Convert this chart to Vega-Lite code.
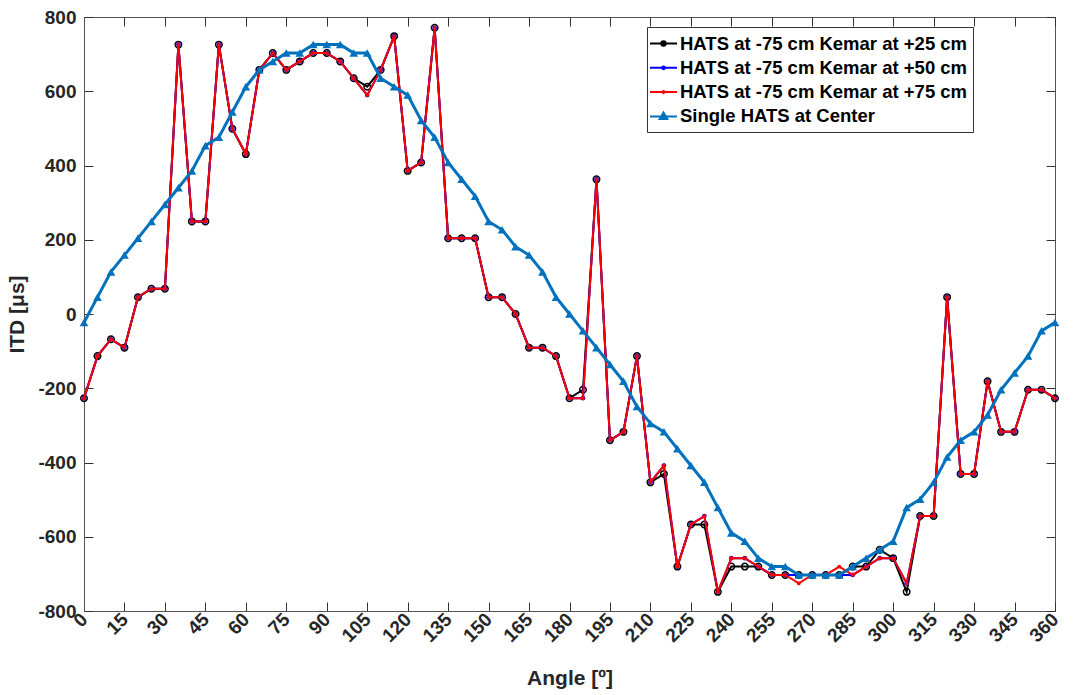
{
  "$schema": "https://vega.github.io/schema/vega-lite/v6.json",
  "width": 971,
  "height": 594,
  "autosize": "none",
  "padding": {"left": 84, "top": 17, "right": 20, "bottom": 84},
  "background": "white",
  "config": {
    "font": "Liberation Sans",
    "view": {"stroke": "#555", "strokeWidth": 1},
    "axis": {
      "grid": false,
      "domainColor": "#555",
      "tickColor": "#333",
      "tickWidth": 1,
      "labelFont": "Liberation Sans",
      "labelFontWeight": "bold",
      "labelFontSize": 19,
      "labelColor": "#262626",
      "titleFont": "Liberation Sans",
      "titleFontWeight": "bold",
      "titleFontSize": 21,
      "titleColor": "#262626"
    }
  },
  "data": {
    "values": [
      {"angle": 0, "c": -22.7, "k25": -226.8, "k50": -226.8, "k75": -226.8},
      {"angle": 5, "c": 45.4, "k25": -113.4, "k50": -113.4, "k75": -113.4},
      {"angle": 10, "c": 113.4, "k25": -68.0, "k50": -68.0, "k75": -68.0},
      {"angle": 15, "c": 158.7, "k25": -90.7, "k50": -90.7, "k75": -90.7},
      {"angle": 20, "c": 204.1, "k25": 45.4, "k50": 45.4, "k75": 45.4},
      {"angle": 25, "c": 249.4, "k25": 68.0, "k50": 68.0, "k75": 68.0},
      {"angle": 30, "c": 294.8, "k25": 68.0, "k50": 68.0, "k75": 68.0},
      {"angle": 35, "c": 340.1, "k25": 725.6, "k50": 725.6, "k75": 725.6},
      {"angle": 40, "c": 385.5, "k25": 249.4, "k50": 249.4, "k75": 249.4},
      {"angle": 45, "c": 453.5, "k25": 249.4, "k50": 249.4, "k75": 249.4},
      {"angle": 50, "c": 476.2, "k25": 725.6, "k50": 725.6, "k75": 725.6},
      {"angle": 55, "c": 544.2, "k25": 498.9, "k50": 498.9, "k75": 498.9},
      {"angle": 60, "c": 612.2, "k25": 430.8, "k50": 430.8, "k75": 430.8},
      {"angle": 65, "c": 657.6, "k25": 657.6, "k50": 657.6, "k75": 657.6},
      {"angle": 70, "c": 680.3, "k25": 702.9, "k50": 702.9, "k75": 702.9},
      {"angle": 75, "c": 702.9, "k25": 657.6, "k50": 657.6, "k75": 657.6},
      {"angle": 80, "c": 702.9, "k25": 680.3, "k50": 680.3, "k75": 680.3},
      {"angle": 85, "c": 725.6, "k25": 702.9, "k50": 702.9, "k75": 702.9},
      {"angle": 90, "c": 725.6, "k25": 702.9, "k50": 702.9, "k75": 702.9},
      {"angle": 95, "c": 725.6, "k25": 680.3, "k50": 680.3, "k75": 680.3},
      {"angle": 100, "c": 702.9, "k25": 634.9, "k50": 634.9, "k75": 634.9},
      {"angle": 105, "c": 702.9, "k25": 612.2, "k50": 589.6, "k75": 589.6},
      {"angle": 110, "c": 634.9, "k25": 657.6, "k50": 657.6, "k75": 657.6},
      {"angle": 115, "c": 612.2, "k25": 748.3, "k50": 748.3, "k75": 748.3},
      {"angle": 120, "c": 589.6, "k25": 385.5, "k50": 385.5, "k75": 385.5},
      {"angle": 125, "c": 521.5, "k25": 408.2, "k50": 408.2, "k75": 408.2},
      {"angle": 130, "c": 476.2, "k25": 771.0, "k50": 771.0, "k75": 771.0},
      {"angle": 135, "c": 408.2, "k25": 204.1, "k50": 204.1, "k75": 204.1},
      {"angle": 140, "c": 362.8, "k25": 204.1, "k50": 204.1, "k75": 204.1},
      {"angle": 145, "c": 317.5, "k25": 204.1, "k50": 204.1, "k75": 204.1},
      {"angle": 150, "c": 249.4, "k25": 45.4, "k50": 45.4, "k75": 45.4},
      {"angle": 155, "c": 226.8, "k25": 45.4, "k50": 45.4, "k75": 45.4},
      {"angle": 160, "c": 181.4, "k25": 0, "k50": 0, "k75": 0},
      {"angle": 165, "c": 158.7, "k25": -90.7, "k50": -90.7, "k75": -90.7},
      {"angle": 170, "c": 113.4, "k25": -90.7, "k50": -90.7, "k75": -90.7},
      {"angle": 175, "c": 45.4, "k25": -113.4, "k50": -113.4, "k75": -113.4},
      {"angle": 180, "c": 0, "k25": -226.8, "k50": -226.8, "k75": -226.8},
      {"angle": 185, "c": -45.4, "k25": -204.1, "k50": -226.8, "k75": -226.8},
      {"angle": 190, "c": -90.7, "k25": 362.8, "k50": 362.8, "k75": 362.8},
      {"angle": 195, "c": -136.1, "k25": -340.1, "k50": -340.1, "k75": -340.1},
      {"angle": 200, "c": -181.4, "k25": -317.5, "k50": -317.5, "k75": -317.5},
      {"angle": 205, "c": -249.4, "k25": -113.4, "k50": -113.4, "k75": -113.4},
      {"angle": 210, "c": -294.8, "k25": -453.5, "k50": -453.5, "k75": -453.5},
      {"angle": 215, "c": -317.5, "k25": -430.8, "k50": -408.2, "k75": -408.2},
      {"angle": 220, "c": -362.8, "k25": -680.3, "k50": -680.3, "k75": -680.3},
      {"angle": 225, "c": -408.2, "k25": -566.9, "k50": -566.9, "k75": -566.9},
      {"angle": 230, "c": -453.5, "k25": -566.9, "k50": -544.2, "k75": -544.2},
      {"angle": 235, "c": -521.5, "k25": -748.3, "k50": -748.3, "k75": -748.3},
      {"angle": 240, "c": -589.6, "k25": -680.3, "k50": -657.6, "k75": -657.6},
      {"angle": 245, "c": -612.2, "k25": -680.3, "k50": -657.6, "k75": -657.6},
      {"angle": 250, "c": -657.6, "k25": -680.3, "k50": -680.3, "k75": -680.3},
      {"angle": 255, "c": -680.3, "k25": -702.9, "k50": -702.9, "k75": -702.9},
      {"angle": 260, "c": -680.3, "k25": -702.9, "k50": -702.9, "k75": -702.9},
      {"angle": 265, "c": -702.9, "k25": -702.9, "k50": -702.9, "k75": -725.6},
      {"angle": 270, "c": -702.9, "k25": -702.9, "k50": -702.9, "k75": -702.9},
      {"angle": 275, "c": -702.9, "k25": -702.9, "k50": -702.9, "k75": -702.9},
      {"angle": 280, "c": -702.9, "k25": -702.9, "k50": -702.9, "k75": -680.3},
      {"angle": 285, "c": -680.3, "k25": -680.3, "k50": -702.9, "k75": -702.9},
      {"angle": 290, "c": -657.6, "k25": -680.3, "k50": -680.3, "k75": -680.3},
      {"angle": 295, "c": -634.9, "k25": -634.9, "k50": -657.6, "k75": -657.6},
      {"angle": 300, "c": -612.2, "k25": -657.6, "k50": -657.6, "k75": -657.6},
      {"angle": 305, "c": -521.5, "k25": -748.3, "k50": -725.6, "k75": -725.6},
      {"angle": 310, "c": -498.9, "k25": -544.2, "k50": -544.2, "k75": -544.2},
      {"angle": 315, "c": -453.5, "k25": -544.2, "k50": -544.2, "k75": -544.2},
      {"angle": 320, "c": -385.5, "k25": 45.4, "k50": 45.4, "k75": 45.4},
      {"angle": 325, "c": -340.1, "k25": -430.8, "k50": -430.8, "k75": -430.8},
      {"angle": 330, "c": -317.5, "k25": -430.8, "k50": -430.8, "k75": -430.8},
      {"angle": 335, "c": -272.1, "k25": -181.4, "k50": -181.4, "k75": -181.4},
      {"angle": 340, "c": -204.1, "k25": -317.5, "k50": -317.5, "k75": -317.5},
      {"angle": 345, "c": -158.7, "k25": -317.5, "k50": -317.5, "k75": -317.5},
      {"angle": 350, "c": -113.4, "k25": -204.1, "k50": -204.1, "k75": -204.1},
      {"angle": 355, "c": -45.4, "k25": -204.1, "k50": -204.1, "k75": -204.1},
      {"angle": 360, "c": -22.7, "k25": -226.8, "k50": -226.8, "k75": -226.8}
    ]
  },
  "layer": [
    {
      "mark": {"type": "line", "strokeWidth": 2},
      "encoding": {
        "x": {
          "field": "angle",
          "type": "quantitative",
          "scale": {"domain": [0, 360], "nice": false, "zero": false},
          "axis": {
            "title": "Angle [º]",
            "values": [0, 15, 30, 45, 60, 75, 90, 105, 120, 135, 150, 165, 180, 195, 210, 225, 240, 255, 270, 285, 300, 315, 330, 345, 360],
            "labelAngle": -45,
            "labelAlign": "right",
            "labelBaseline": "middle",
            "tickSize": -9,
            "labelPadding": 14,
            "titlePadding": 22,
            "labelFlush": false,
            "labelOverlap": false
          }
        },
        "y": {
          "field": "k25",
          "type": "quantitative",
          "scale": {"domain": [-800, 800], "nice": false},
          "axis": {
            "title": "ITD [μs]",
            "values": [-800, -600, -400, -200, 0, 200, 400, 600, 800],
            "labelExpr": "'' + datum.value",
            "tickSize": -9,
            "labelPadding": 17,
            "titlePadding": 10
          }
        },
        "color": {
          "datum": "HATS at -75 cm Kemar at +25 cm",
          "type": "nominal",
          "scale": {
            "domain": ["HATS at -75 cm Kemar at +25 cm", "HATS at -75 cm Kemar at +50 cm", "HATS at -75 cm Kemar at +75 cm", "Single HATS at Center"],
            "range": ["#000000", "#0000FF", "#FF0000", "#0072BD"]
          },
          "legend": {
            "title": null,
            "orient": "none",
            "legendX": 563,
            "legendY": 10,
            "padding": 5.5,
            "strokeColor": "#333",
            "fillColor": "white",
            "labelFont": "Liberation Sans",
            "labelFontWeight": "bold",
            "labelFontSize": 18.5,
            "labelColor": "#000",
            "labelLimit": 0,
            "labelOffset": 5.5,
            "rowPadding": 3.3,
            "symbolSize": 400,
            "symbolType": "stroke",
            "symbolStrokeWidth": 2,
            "encode": {
              "symbols": {
                "update": {
                  "shape": {"signal": "datum.value === 'Single HATS at Center' ? 'M-1.35,0H1.35M0,-0.4L0.38,0.26L-0.38,0.26Z' : (datum.value === 'HATS at -75 cm Kemar at +75 cm' ? 'M-1.35,0H1.35M0,-0.22V0.22' : (datum.value === 'HATS at -75 cm Kemar at +50 cm' ? 'M-1.35,0H1.35M-0.14,0A0.14,0.14,0,1,0,0.14,0A0.14,0.14,0,1,0,-0.14,0Z' : 'M-1.35,0H1.35M-0.22,0A0.22,0.22,0,1,0,0.22,0A0.22,0.22,0,1,0,-0.22,0Z'))"},
                  "fill": {"scale": "color", "field": "value"},
                  "stroke": {"scale": "color", "field": "value"},
                  "strokeWidth": {"value": 2}
                }
              }
            }
          }
        }
      }
    },
    {
      "mark": {"type": "point", "filled": false, "color": "#000000", "strokeWidth": 1.5, "size": 42, "opacity": 1},
      "encoding": {
        "x": {"field": "angle", "type": "quantitative", "axis": null},
        "y": {"field": "k25", "type": "quantitative", "axis": null}
      }
    },
    {
      "mark": {"type": "line", "strokeWidth": 2},
      "encoding": {
        "x": {"field": "angle", "type": "quantitative", "axis": null},
        "y": {"field": "k50", "type": "quantitative", "axis": null},
        "color": {"datum": "HATS at -75 cm Kemar at +50 cm", "type": "nominal"}
      }
    },
    {
      "mark": {"type": "point", "filled": true, "color": "#0000FF", "size": 22, "opacity": 1},
      "encoding": {
        "x": {"field": "angle", "type": "quantitative", "axis": null},
        "y": {"field": "k50", "type": "quantitative", "axis": null}
      }
    },
    {
      "mark": {"type": "line", "strokeWidth": 2},
      "encoding": {
        "x": {"field": "angle", "type": "quantitative", "axis": null},
        "y": {"field": "k75", "type": "quantitative", "axis": null},
        "color": {"datum": "HATS at -75 cm Kemar at +75 cm", "type": "nominal"}
      }
    },
    {
      "mark": {"type": "point", "filled": true, "color": "#FF0000", "size": 14, "opacity": 1},
      "encoding": {
        "x": {"field": "angle", "type": "quantitative", "axis": null},
        "y": {"field": "k75", "type": "quantitative", "axis": null}
      }
    },
    {
      "mark": {"type": "line", "strokeWidth": 3},
      "encoding": {
        "x": {"field": "angle", "type": "quantitative", "axis": null},
        "y": {"field": "c", "type": "quantitative", "axis": null},
        "color": {"datum": "Single HATS at Center", "type": "nominal"}
      }
    },
    {
      "mark": {"type": "point", "filled": true, "shape": "triangle-up", "color": "#0072BD", "size": 75, "opacity": 1},
      "encoding": {
        "x": {
          "field": "angle",
          "type": "quantitative",
          "axis": {
            "orient": "top",
            "labels": false,
            "title": null,
            "domain": false,
            "values": [0, 15, 30, 45, 60, 75, 90, 105, 120, 135, 150, 165, 180, 195, 210, 225, 240, 255, 270, 285, 300, 315, 330, 345, 360],
            "tickSize": -9
          }
        },
        "y": {
          "field": "c",
          "type": "quantitative",
          "axis": {
            "orient": "right",
            "labels": false,
            "title": null,
            "domain": false,
            "values": [-800, -600, -400, -200, 0, 200, 400, 600, 800],
            "tickSize": -9
          }
        }
      }
    }
  ],
  "resolve": {"axis": {"x": "independent", "y": "independent"}}
}
